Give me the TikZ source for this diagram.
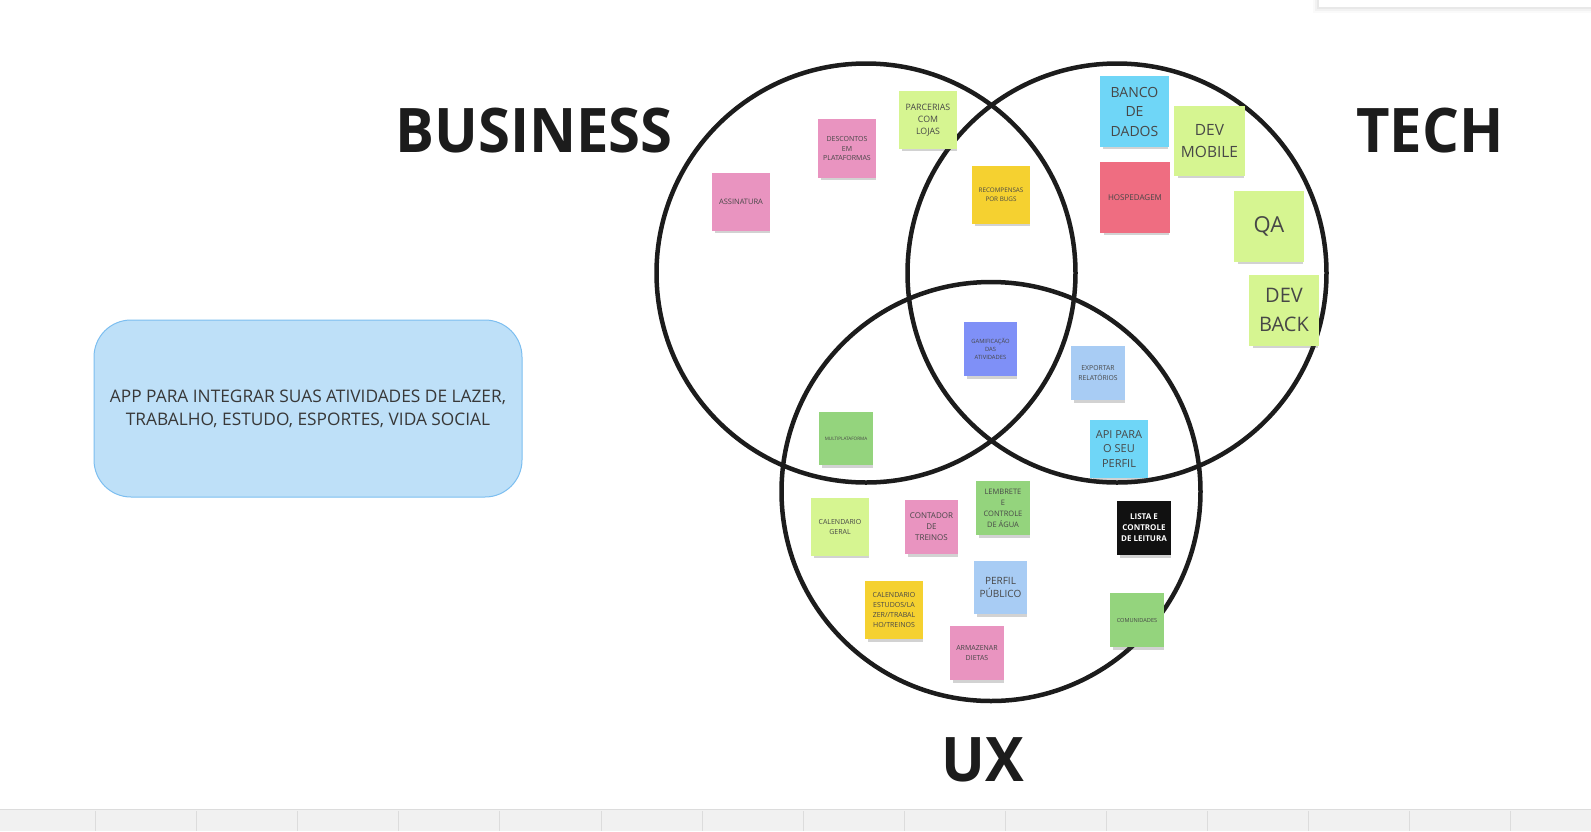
\documentclass[tikz,border=0pt]{standalone}
\usepackage{fontspec}
\setmainfont{Open Sans}
\usetikzlibrary{shadows}
\definecolor{cpink}{HTML}{E994C0}
\definecolor{clgreen}{HTML}{D6F591}
\definecolor{cyellow}{HTML}{F5D130}
\definecolor{cblue}{HTML}{6FD6F7}
\definecolor{cred}{HTML}{EF6D81}
\definecolor{cpurple}{HTML}{7F90F7}
\definecolor{clblue}{HTML}{A8CCF4}
\definecolor{cgreen}{HTML}{94D47D}
\definecolor{cblack}{HTML}{111111}
\definecolor{ring}{HTML}{1C1C1C}
\definecolor{boxfill}{HTML}{BEE0F8}
\definecolor{boxline}{HTML}{7CBEF0}
\definecolor{bar}{HTML}{F1F1F1}
\definecolor{barline}{HTML}{DCDCDC}
\tikzset{
  ringline/.style={draw=ring, line width=4.5pt},
  sticky/.style={rectangle, inner sep=0pt, align=center, text=black!72,
    drop shadow={shadow xshift=1.5pt, shadow yshift=-4.5pt, shadow scale=0.94, opacity=0.25, fill=black!70}},
  sz/.style 2 args={minimum width=#1pt, minimum height=#2pt},
  fs/.style 2 args={font={\fontsize{#1pt}{#2pt}\selectfont}},
  heading/.style={anchor=base, text=ring, font={\bfseries\fontsize{58pt}{58pt}\selectfont}},
}
\begin{document}
\begin{tikzpicture}[x=1pt, y=-1pt]
\useasboundingbox (0,0) rectangle (1591,831);
\fill[white] (0,0) rectangle (1591,831);
% top-right panel
\foreach \d/\o in {6/0.02,4/0.03,2/0.04}{
  \fill[black, opacity=\o] (1319-\d,0) rectangle (1591,7+\d);
}
\fill[white] (1319,0) rectangle (1591,7);
% bottom bar
\fill[bar] (0,809) rectangle (1591,831);
\draw[barline, line width=1.5pt] (0,809.5) -- (1591,809.5);
\foreach \k in {0,...,14}{
  \draw[barline, line width=0.8pt] ({95.4+101.1*\k},811) -- ({95.4+101.1*\k},831);
}
% circles
\node[circle, ringline, minimum size=419pt, inner sep=0pt] (business) at (866,273) {};
\node[circle, ringline, minimum size=419pt, inner sep=0pt] (tech) at (1117,273) {};
\node[circle, ringline, minimum size=419pt, inner sep=0pt] (ux) at (991,491.5) {};
% headings
\node[heading, yscale=1.06] (lbusiness) at (534,152) {BUSINESS};
\node[heading, yscale=1.06] (ltech) at (1430,152) {TECH};
\node[heading, yscale=1.06] (lux) at (983,781) {UX};
% description box
\node[rectangle, rounded corners=37pt, draw=boxline, line width=1pt, fill=boxfill,
  sz={428}{177}, align=center, text=black!78, fs={17.3}{23}] (desc) at (308,408.5)
  {APP PARA INTEGRAR SUAS ATIVIDADES DE LAZER,\\TRABALHO, ESTUDO, ESPORTES, VIDA SOCIAL};
% stickies
\node[sticky, fill=cpink, sz={58}{58}, fs={7.5}{9.5}] (assinatura) at (741,202) {ASSINATURA};
\node[sticky, fill=cpink, sz={58}{59}, fs={7}{9.5}] (descontos) at (847,148.5) {DESCONTOS\\EM\\PLATAFORMAS};
\node[sticky, fill=clgreen, sz={58}{58}, fs={8.8}{12.3}] (parcerias) at (928,120) {PARCERIAS\\COM\\LOJAS};
\node[sticky, fill=cyellow, sz={58}{58}, fs={6.3}{9}] (recompensas) at (1001,195) {RECOMPENSAS\\POR BUGS};
\node[sticky, fill=cblue, sz={69}{71}, fs={14}{19.5}] (banco) at (1134.5,111.5) {BANCO\\DE\\DADOS};
\node[sticky, fill=clgreen, sz={71}{70}, fs={15.5}{22}] (devmobile) at (1209.5,141) {DEV\\MOBILE};
\node[sticky, fill=cred, sz={70}{71}, fs={8}{10}] (hospedagem) at (1135,197.5) {HOSPEDAGEM};
\node[sticky, fill=clgreen, sz={70}{71}, fs={22}{26}] (qa) at (1269,226.5) {QA};
\node[sticky, fill=clgreen, sz={70}{71}, fs={20}{29.5}] (devback) at (1284,310) {DEV\\BACK};
\node[sticky, fill=cpurple, sz={53}{54}, fs={5.8}{8.3}] (gamificacao) at (990.5,349) {GAMIFICAÇÃO\\DAS\\ATIVIDADES};
\node[sticky, fill=clblue, sz={54}{54}, fs={6.8}{10}] (exportar) at (1098,373) {EXPORTAR\\RELATÓRIOS};
\node[sticky, fill=cblue, sz={58}{58}, fs={11}{14.7}] (api) at (1119,449) {API PARA\\O SEU\\PERFIL};
\node[sticky, fill=cgreen, sz={54}{53}, fs={4.6}{6}] (multiplataforma) at (846,438.5) {MULTIPLATAFORMA};
\node[sticky, fill=clgreen, sz={58}{58}, fs={7}{10}] (calgeral) at (840,527) {CALENDARIO\\GERAL};
\node[sticky, fill=cpink, sz={53}{54}, fs={8}{11}] (contador) at (931.5,527) {CONTADOR\\DE\\TREINOS};
\node[sticky, fill=cgreen, sz={54}{54}, fs={7.5}{11}] (lembrete) at (1003,508) {LEMBRETE\\E\\CONTROLE\\DE ÁGUA};
\node[sticky, fill=clblue, sz={53}{53}, fs={10}{13.7}] (perfilpub) at (1000.5,587.5) {PERFIL\\PÚBLICO};
\node[sticky, fill=cyellow, sz={58}{58}, fs={7}{10.2}] (calestudos) at (894,610) {CALENDARIO\\ESTUDOS/LA\\ZER//TRABAL\\HO/TREINOS};
\node[sticky, fill=cpink, sz={54}{54}, fs={7}{9.3}] (armazenar) at (977,653) {ARMAZENAR\\DIETAS};
\node[sticky, fill=cblack, text=white, sz={54}{54}, font={\bfseries\fontsize{8pt}{11pt}\selectfont}] (lista) at (1144,528) {LISTA E\\CONTROLE\\DE LEITURA};
\node[sticky, fill=cgreen, sz={54}{54}, fs={5.6}{7}] (comunidades) at (1137,620) {COMUNIDADES};
\end{tikzpicture}
\end{document}
